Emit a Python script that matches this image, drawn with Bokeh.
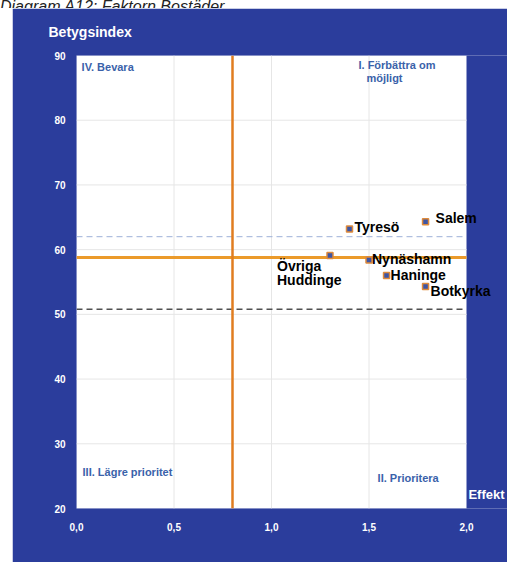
from bokeh.plotting import figure
from bokeh.models import ColumnDataSource, Range1d, Label, Div
from bokeh.layouts import column
from bokeh.core.properties import value
from bokeh.embed import file_html
from bokeh.resources import INLINE

# Municipalities: effect (x) and rating index (y)
names = ["Tyresö", "Salem", "Övriga\nHuddinge", "Nynäshamn", "Haninge", "Botkyrka"]
effekt = [1.40, 1.79, 1.30, 1.50, 1.59, 1.79]
betyg = [63.2, 64.3, 59.1, 58.4, 56.0, 54.3]

# Reference lines
mean_effekt = 0.8
mean_betyg = 58.8
upper_ref = 62.0
lower_ref = 50.8

x_min, x_max = 0.0, 2.0
y_min, y_max = 20, 90
x_ticks = [0.0, 0.5, 1.0, 1.5, 2.0]
x_tick_labels = ["0,0", "0,5", "1,0", "1,5", "2,0"]
y_ticks = [20, 30, 40, 50, 60, 70, 80, 90]

# Label placement (pixels, relative to each point)
label_dx = [5, 10, -53, 3, 4, 5]
label_dy = [-2, -4, 3, -1, -1, 4]
label_base = ["middle", "middle", "top", "middle", "middle", "middle"]

PANEL = "#2b3d9c"
FONT = "Liberation Sans"

src = ColumnDataSource(dict(x=effekt, y=betyg, name=names,
                            dx=label_dx, dy=label_dy, base=label_base))

# the frame runs on past x=2 to the right edge so texts can spill onto the panel
p = figure(width=495, height=554, output_backend="svg", toolbar_location=None,
           x_range=Range1d(x_min, x_max + 41 / 195), y_range=Range1d(y_min, y_max),
           min_border_left=64, min_border_right=0,
           min_border_top=47, min_border_bottom=54,
           background_fill_color=PANEL, border_fill_color=PANEL,
           outline_line_color=None, margin=(0, 0, 0, 12))

p.title.text = "Betygsindex"
p.title.align = "left"
p.title.vertical_align = "top"
p.title.offset = -28
p.title.standoff = 28
p.title.text_color = "white"
p.title.text_font = FONT
p.title.text_font_style = "bold"
p.title.text_font_size = "14px"

for ax in (p.xaxis[0], p.yaxis[0]):
    ax.axis_line_color = None
    ax.major_tick_line_color = None
    ax.minor_tick_line_color = None
    ax.major_tick_out = 0
    ax.major_tick_in = 0
    ax.major_label_text_color = "white"
    ax.major_label_text_font = FONT
    ax.major_label_text_font_style = "bold"
    ax.major_label_text_font_size = "10px"

p.xaxis.ticker = x_ticks
p.xaxis.major_label_overrides = {t: l for t, l in zip(x_ticks, x_tick_labels)}
p.xaxis.major_label_standoff = 14
p.yaxis.ticker = y_ticks
p.yaxis.major_label_standoff = 11
p.xgrid.grid_line_color = None
p.ygrid.grid_line_color = None

# white plotting area
p.quad(left=[x_min], right=[x_max], bottom=[y_min], top=[y_max],
       fill_color="white", line_color=None)

# light grid inside the plotting area
inner_x = [t for t in x_ticks if x_min < t < x_max]
inner_y = [t for t in y_ticks if y_min < t < y_max]
p.segment(x0=inner_x, x1=inner_x, y0=[y_min] * len(inner_x), y1=[y_max] * len(inner_x),
          line_color="#e6e6e6", line_width=1)
p.segment(x0=[x_min] * len(inner_y), x1=[x_max] * len(inner_y), y0=inner_y, y1=inner_y,
          line_color="#e6e6e6", line_width=1)

# reference lines
p.segment(x0=[x_min], x1=[x_max], y0=[upper_ref], y1=[upper_ref],
          line_color="#9db0d8", line_dash="6 4", line_width=1)
p.segment(x0=[x_min], x1=[x_max], y0=[lower_ref], y1=[lower_ref],
          line_color="#505050", line_dash="6 4", line_width=1.5)
p.segment(x0=[x_min], x1=[x_max], y0=[mean_betyg], y1=[mean_betyg],
          line_color="#eb9a2a", line_width=3)
p.segment(x0=[mean_effekt], x1=[mean_effekt], y0=[y_min], y1=[y_max],
          line_color="#e07d20", line_width=2.5)

p.scatter("x", "y", source=src, marker="square", size=6,
          fill_color="#3d55a5", line_color="#dd8a3c", line_width=1.5)

p.text("x", "y", text="name", source=src, x_offset="dx", y_offset="dy",
       text_baseline="base", text_align="left",
       text_font=value(FONT), text_font_style="bold",
       text_font_size="14px", text_color="black", text_line_height=0.85)

quad_style = dict(text_font=FONT, text_font_style="bold",
                  text_font_size="11px", text_color="#3a62aa",
                  text_baseline="middle", text_align="left")
for txt, qx, qy in [("IV. Bevara", 0.026, 88.3),
                    ("I. Förbättra om", 1.446, 88.6),
                    ("möjligt", 1.487, 86.6),
                    ("III. Lägre prioritet", 0.031, 25.7),
                    ("II. Prioritera", 1.544, 24.7)]:
    p.add_layout(Label(x=qx, y=qy, text=txt, **quad_style))

p.add_layout(Label(x=2.01, y=22.1, text="Effekt", text_color="white",
                   text_font=FONT, text_font_style="bold", text_font_size="13px",
                   text_baseline="middle", text_align="left"))

caption = Div(
    text=("<div style=\"font: italic 16px 'Liberation Sans', Arial, sans-serif;"
          "line-height: 16px; margin-top: -8px; white-space: nowrap; color: #222;\">"
          "Diagram A12: Faktorn Bostäder</div>"),
    width=507, height=8, margin=(0, 0, 0, 0), styles={"overflow": "hidden"})

layout = column(caption, p, spacing=0)
open("out.html", "w").write(file_html(layout, INLINE))
